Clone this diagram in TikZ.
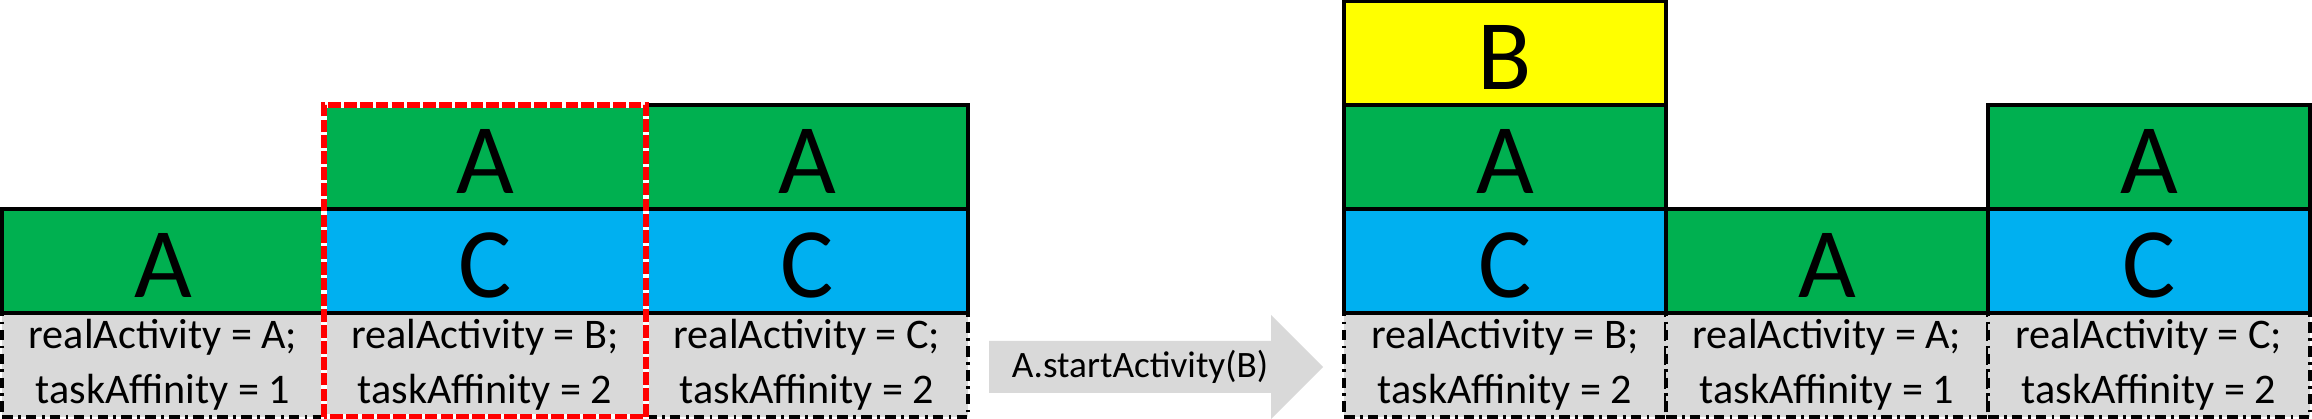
\documentclass[tikz,border=0pt]{standalone}
\usepackage{fontspec}
\setmainfont{Carlito}
\definecolor{actgreen}{HTML}{00B050}
\definecolor{actblue}{HTML}{00B0F0}
\definecolor{actyellow}{HTML}{FFFF00}
\definecolor{infogray}{HTML}{D9D9D9}
\begin{document}
\begin{tikzpicture}[
  cell/.style={rectangle,draw,line width=1.3pt,minimum width=3.22cm,minimum height=1.04cm,
    inner sep=0pt,outer sep=0pt,font=\fontsize{28.4}{34}\selectfont,text height=0.74cm,text depth=0pt},
  ga/.style={cell,fill=actgreen},
  bc/.style={cell,fill=actblue},
  yb/.style={cell,fill=actyellow},
  info/.style={rectangle,draw,fill=infogray,line width=1pt,dash pattern=on 3pt off 1.5pt on 0.8pt off 1.5pt,
    minimum width=3.22cm,minimum height=1.04cm,inner sep=0pt,outer sep=0pt,align=center,
    font=\fontsize{12}{15.6}\selectfont},
  hilite/.style={red,line width=1.9pt,dash pattern=on 3.6pt off 0.9pt},
  callarrow/.style={fill=infogray}]
 \useasboundingbox (0,0) rectangle (23.12,4.19);
 % left: before the call
 \node[info] (l1i) at (1.63,0.54) {realActivity = A;\\taskAffinity = 1};
 \node[info] (l2i) at (4.85,0.54) {realActivity = B;\\taskAffinity = 2};
 \node[info] (l3i) at (8.07,0.54) {realActivity = C;\\taskAffinity = 2};
 \node[ga] (l1a) at (1.63,1.58) {A};
 \node[bc] (l2c) at (4.85,1.58) {C};
 \node[ga] (l2a) at (4.85,2.62) {A};
 \node[bc] (l3c) at (8.07,1.58) {C};
 \node[ga] (l3a) at (8.07,2.62) {A};
 \draw[white,line width=1.9pt] (l2i.south west) rectangle (l2a.north east);
 \draw[hilite] (l2i.south west) rectangle (l2a.north east);
 % the call
 \fill[callarrow] (9.89,0.26) -- (12.71,0.26) -- (12.71,0) -- (13.23,0.52) -- (12.71,1.04) -- (12.71,0.78) -- (9.89,0.78) -- cycle;
 \node[font=\fontsize{10.6}{13}\selectfont] (call) at (11.40,0.52) {A.startActivity(B)};
 % right: after the call
 \node[info] (r1i) at (15.05,0.54) {realActivity = B;\\taskAffinity = 2};
 \node[info] (r2i) at (18.27,0.54) {realActivity = A;\\taskAffinity = 1};
 \node[info] (r3i) at (21.49,0.54) {realActivity = C;\\taskAffinity = 2};
 \node[bc] (r1c) at (15.05,1.58) {C};
 \node[ga] (r1a) at (15.05,2.62) {A};
 \node[yb] (r1b) at (15.05,3.66) {B};
 \node[ga] (r2a) at (18.27,1.58) {A};
 \node[bc] (r3c) at (21.49,1.58) {C};
 \node[ga] (r3a) at (21.49,2.62) {A};
\end{tikzpicture}
\end{document}
